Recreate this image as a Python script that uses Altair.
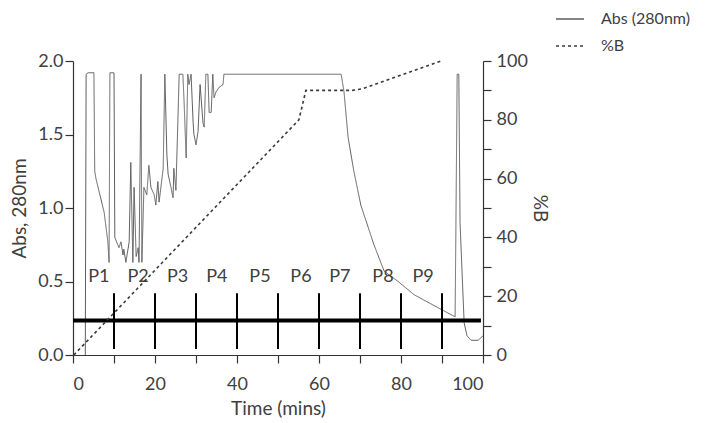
import altair as alt
import pandas as pd

# Absorbance trace (time in mins, Abs 280nm)
abs_time = [3.0, 3.2, 3.7, 5.1, 5.3, 5.6, 7.6, 8.5, 8.8, 9.0, 10.0, 10.2, 11.2, 11.7, 12.2, 12.4,
            12.9, 13.7, 14.1, 14.6, 14.9, 15.4, 15.9, 16.1, 16.6, 16.8, 17.3, 18.0, 18.5, 19.0,
            19.8, 20.2, 20.7, 21.0, 22.0, 22.4, 22.9, 23.2, 23.9, 24.4, 24.6, 25.1, 25.9, 26.8,
            27.1, 27.6, 28.0, 28.3, 28.8, 29.3, 29.5, 30.0, 30.5, 31.0, 31.7, 32.0, 32.4, 32.9,
            33.2, 33.7, 34.1, 34.4, 34.9, 35.6, 36.6, 36.8, 65.4, 66.1, 67.1, 68.5, 70.2, 73.4,
            75.9, 79.3, 83.2, 89.8, 93.2, 93.4, 93.7, 94.1, 94.4, 95.4, 96.1, 97.1, 98.8, 100.0]
abs_value = [0.0, 1.91, 1.92, 1.92, 1.25, 1.20, 0.97, 0.77, 0.63, 1.92, 1.92, 0.80, 0.73, 0.77, 0.68, 0.72,
             0.63, 0.77, 1.31, 0.63, 1.14, 0.67, 0.73, 0.63, 1.91, 0.63, 1.14, 1.09, 1.29, 1.14,
             1.09, 1.02, 1.18, 1.04, 1.27, 1.91, 1.36, 1.23, 1.14, 1.07, 1.27, 1.12, 1.91, 1.91,
             1.72, 1.34, 1.91, 1.84, 1.91, 1.58, 1.50, 1.43, 1.52, 1.84, 1.58, 1.55, 1.91, 1.91,
             1.65, 1.65, 1.91, 1.75, 1.79, 1.82, 1.84, 1.91, 1.91, 1.79, 1.48, 1.25, 1.02, 0.75,
             0.57, 0.50, 0.41, 0.31, 0.26, 0.90, 1.91, 1.91, 0.90, 0.22, 0.13, 0.10, 0.10, 0.13]

# Gradient (%B)
b_time = [0.2, 55.1, 56.8, 68.0, 70.5, 89.8]
b_value = [0, 80, 90, 90, 90.5, 100]

# Fraction collection
fraction_bounds = [10, 20, 30, 40, 50, 60, 70, 80, 90]
fraction_names = ["P1", "P2", "P3", "P4", "P5", "P6", "P7", "P8", "P9"]
fraction_label_x = [6.3, 15.9, 25.5, 35.1, 45.6, 55.6, 65.1, 75.6, 85.4]
collector_level = [0.235]
collector_start = [0.0]
collector_end = [99.5]
tick_low = 0.04
tick_high = 0.42
label_level = 0.53

series_names = ["Abs (280nm)", "%B"]

abs_df = pd.DataFrame({"time": abs_time, "abs": abs_value, "series": series_names[0]})
b_df = pd.DataFrame({"time": b_time, "pb": b_value, "series": series_names[1]})
bounds_df = pd.DataFrame({"time": fraction_bounds, "lo": [tick_low] * 9, "hi": [tick_high] * 9})
labels_df = pd.DataFrame({"time": fraction_label_x, "abs": [label_level] * 9, "name": fraction_names})
coll_df = pd.DataFrame({"time": collector_start, "x2": collector_end, "abs": collector_level})

FONT = "Lato"
TXT = "#404040"

xscale = alt.Scale(domain=[0, 100], nice=False, zero=False)
yscale = alt.Scale(domain=[0, 2], nice=False)
x_axis = alt.Axis(values=list(range(0, 101, 10)),
                  labelExpr="datum.value % 20 == 0 ? datum.label : ''",
                  title="Time (mins)", grid=False, labelPadding=12, titlePadding=6)
y_axis = alt.Axis(values=[0, 0.5, 1.0, 1.5, 2.0], format=".1f",
                  title="Abs, 280nm", grid=False, orient="left",
                  labelPadding=2, titlePadding=8)
X = alt.X("time:Q", scale=xscale, axis=x_axis, title="Time (mins)")

def Yabs(field):
    return alt.Y(field, scale=yscale, axis=y_axis, title="Abs, 280nm")

dash_scale = alt.Scale(domain=series_names, range=[[1, 0], [3, 3]])
color_scale = alt.Scale(domain=series_names, range=["#5e5e5e", "#3a3a3a"])
leg = alt.Legend(title=None, orient="none", legendX=482, legendY=-57,
                 symbolType="stroke", symbolSize=784, symbolStrokeWidth=1.5,
                 labelFontSize=16, labelFont=FONT, labelColor=TXT, labelOffset=16,
                 rowPadding=4, direction="vertical")

abs_line = alt.Chart(abs_df).mark_line(strokeWidth=1).encode(
    x=X,
    y=Yabs("abs:Q"),
    strokeDash=alt.StrokeDash("series:N", scale=dash_scale, legend=leg),
    color=alt.Color("series:N", scale=color_scale, legend=leg),
)

collector = alt.Chart(coll_df).mark_rule(strokeWidth=4, color="#000000").encode(
    x=X, x2="x2:Q", y=Yabs("abs:Q"))

bounds = alt.Chart(bounds_df).mark_rule(strokeWidth=2, color="#000000").encode(
    x=X, y=Yabs("lo:Q"), y2="hi:Q")

labels = alt.Chart(labels_df).mark_text(fontSize=18, font=FONT, color=TXT,
                                        align="center", baseline="middle").encode(
    x=X, y=Yabs("abs:Q"), text="name:N")

left = alt.layer(abs_line, collector, bounds, labels)

b_line = alt.Chart(b_df).mark_line(strokeWidth=1.6).encode(
    x=X,
    y=alt.Y("pb:Q", scale=alt.Scale(domain=[0, 100], nice=False),
            axis=alt.Axis(values=list(range(0, 101, 10)),
                          labelExpr="datum.value % 20 == 0 ? datum.label : ''",
                          title="%B", grid=False, orient="right",
                          labelPadding=5, titlePadding=2)),
    strokeDash=alt.StrokeDash("series:N", scale=dash_scale, legend=leg),
    color=alt.Color("series:N", scale=color_scale, legend=leg),
)

chart = alt.layer(left, b_line).resolve_scale(y="independent").properties(
    width=410, height=294, padding={"left": 2, "top": -4, "right": 0, "bottom": 0}
).configure_view(stroke=None).configure_axis(
    labelFont=FONT, titleFont=FONT, labelFontSize=18, titleFontSize=19,
    titleFontWeight="normal", labelColor=TXT, titleColor=TXT,
    domainColor="#333333", tickColor="#333333", tickSize=8, domainWidth=1.2, tickWidth=1.2
)

chart.save("out.html", embed_options={"renderer": "svg", "actions": False})
